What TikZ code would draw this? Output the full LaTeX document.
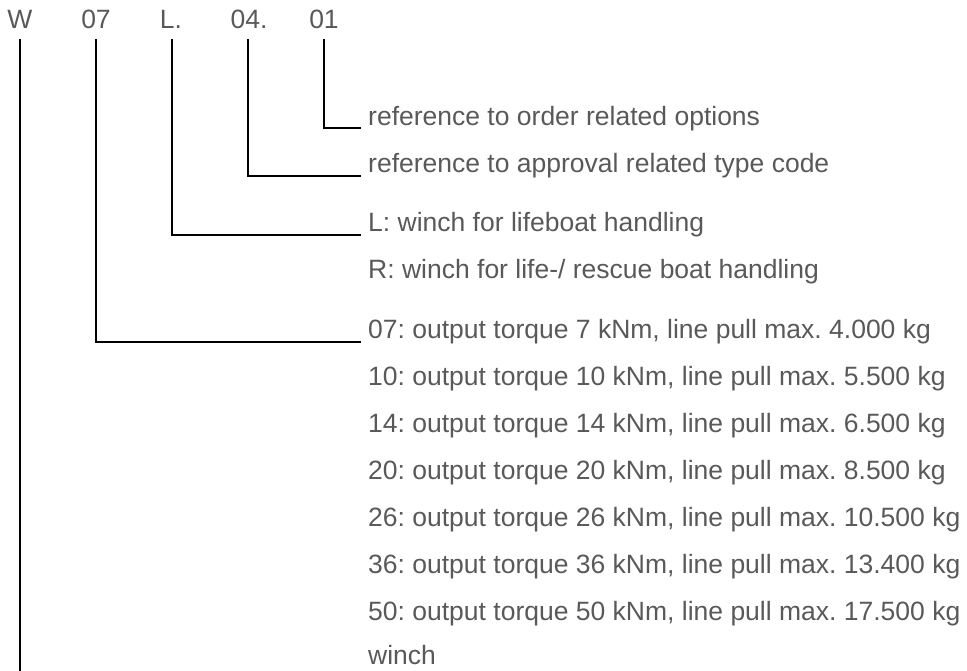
\documentclass[tikz,border=0pt]{standalone}
\usepackage{fontspec}
\setmainfont{Liberation Sans}
\definecolor{txt}{HTML}{595959}
\begin{document}
\frenchspacing
\begin{tikzpicture}[x=1pt,y=-1pt,
  hdr/.style={anchor=base,inner sep=0pt,text=txt,font=\fontsize{26.5}{31}\selectfont},
  lbl/.style={anchor=base west,inner sep=0pt,text=txt,font=\fontsize{26.5}{31}\selectfont},
  conn/.style={line width=2.6pt,draw=black,line cap=butt,line join=miter}]
\useasboundingbox (0,0) rectangle (967,671);
% header
\node[hdr] (hW) at (20,29) {W};
\node[hdr] (h07) at (96,29) {07};
\node[hdr] (hL) at (171,29) {L.};
\node[hdr] (h04) at (249,29) {04.};
\node[hdr] (h01) at (324,29) {01};
% labels
\node[lbl] (t01) at (368,126) {reference to order related options};
\node[lbl] (t04) at (368,173) {reference to approval related type code};
\node[lbl] (tL) at (368,232) {L: winch for lifeboat handling};
\node[lbl] (tR) at (368,279) {R: winch for life-/ rescue boat handling};
\node[lbl] (t07) at (368,338) {07: output torque 7 kNm, line pull max. 4.000 kg};
\node[lbl] (t10) at (368,385) {10: output torque 10 kNm, line pull max. 5.500 kg};
\node[lbl] (t14) at (368,432) {14: output torque 14 kNm, line pull max. 6.500 kg};
\node[lbl] (t20) at (368,479) {20: output torque 20 kNm, line pull max. 8.500 kg};
\node[lbl] (t26) at (368,526) {26: output torque 26 kNm, line pull max. 10.500 kg};
\node[lbl] (t36) at (368,573) {36: output torque 36 kNm, line pull max. 13.400 kg};
\node[lbl] (t50) at (368,620) {50: output torque 50 kNm, line pull max. 17.500 kg};
\node[lbl] (tw) at (368,664) {winch};
% connector endpoints
\coordinate (top) at (0,39);
\coordinate (e01) at (361,128);
\coordinate (e04) at (361,176);
\coordinate (eL) at (361,235);
\coordinate (e07) at (361,342);
\coordinate (eW) at (20,671);
\draw[conn] (h01.base |- top) |- (e01);
\draw[conn] (h04.base |- top) ++(-1,0) |- (e04);
\draw[conn] (hL.base |- top) ++(1,0) |- (eL);
\draw[conn] (h07.base |- top) |- (e07);
\draw[conn] (hW.base |- top) -- (eW);
\end{tikzpicture}
\end{document}
